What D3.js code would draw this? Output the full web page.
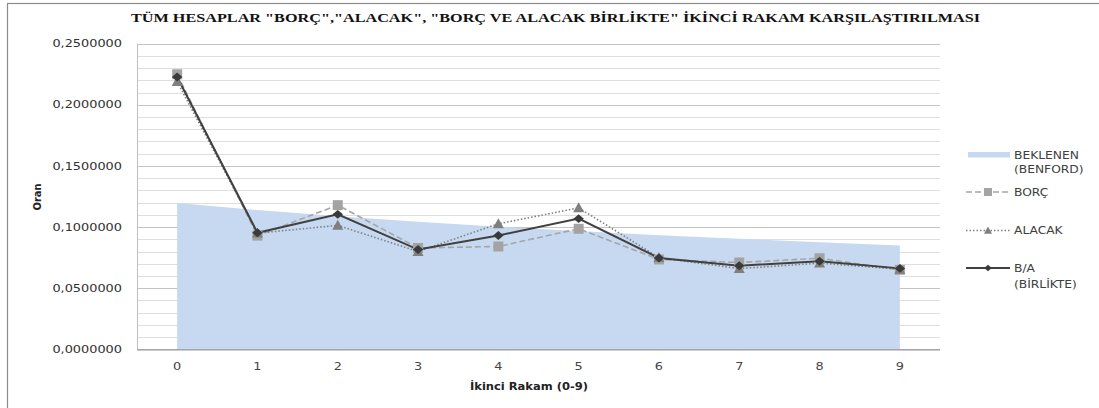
<!DOCTYPE html>
<html><head><meta charset="utf-8">
<script src="https://cdn.jsdelivr.net/npm/d3@7"></script>
<style>html,body{margin:0;padding:0;background:#fff;overflow:hidden}</style>
</head><body>
<svg id="c" width="1099" height="408"></svg>
<script>
const digits = ["0","1","2","3","4","5","6","7","8","9"];
const benford = [0.1197,0.1139,0.1088,0.1043,0.1003,0.0967,0.0934,0.0904,0.0876,0.0850];
const borc = [0.2250,0.0930,0.1179,0.0829,0.0841,0.0986,0.0735,0.0710,0.0745,0.0650];
const alacak = [0.2190,0.0950,0.1014,0.0800,0.1027,0.1157,0.0750,0.0660,0.0705,0.0655];
const birlikte = [0.2228,0.0953,0.1104,0.0816,0.0931,0.1069,0.0747,0.0684,0.0720,0.0662];
const yTicks = [0,0.05,0.1,0.15,0.2,0.25];
const title = 'TÜM HESAPLAR "BORÇ","ALACAK", "BORÇ VE ALACAK BİRLİKTE" İKİNCİ RAKAM KARŞILAŞTIRILMASI';
const legendLabels = [["BEKLENEN","(BENFORD)"],["BORÇ"],["ALACAK"],["B/A","(BİRLİKTE)"]];

const svg = d3.select("#c");
const L = 137, R = 940, T = 43.7, B = 349.3;
const x = d3.scalePoint().domain(digits).range([L, R]).padding(0.5);
const y = d3.scaleLinear().domain([0,0.25]).range([B, T]);
const SX = 1.17;
function stext(g, px, py, str, opts) {
  return g.append("text")
    .attr("transform", `translate(${px},${py}) scale(${SX},1)`)
    .attr("font-family", opts.family || "DejaVu Sans")
    .attr("font-size", opts.size || 11)
    .attr("font-weight", opts.weight || "normal")
    .attr("fill", opts.fill || "#404040")
    .attr("text-anchor", opts.anchor || "start")
    .attr("dominant-baseline", "central")
    .text(str);
}
function markerPath(type, s) {
  const h = s/2;
  if (type === "square") return `M${-h},${-h}H${h}V${h}H${-h}Z`;
  if (type === "triangle") return `M0,${-h}L${h},${h*0.8}L${-h},${h*0.8}Z`;
  return `M0,${-h*0.85}L${h},0L0,${h*0.85}L${-h},0Z`;
}

// outer border
svg.append("rect").attr("x",7.5).attr("y",3.5).attr("width",1100).attr("height",420)
  .attr("fill","none").attr("stroke","#8c8c8c").attr("stroke-width",1.2);

// title
svg.append("text").attr("x",131).attr("y",18).attr("dominant-baseline","central")
  .attr("font-family","Liberation Serif").attr("font-weight","bold").attr("font-size",12.5)
  .attr("textLength",849).attr("lengthAdjust","spacingAndGlyphs").attr("fill","#111")
  .text(title);

// gridlines
const minor = d3.range(0, 0.2501, 0.01);
svg.append("g").selectAll("line").data(minor).join("line")
  .attr("x1",L).attr("x2",R)
  .attr("y1",d=>Math.round(y(d))+0.5).attr("y2",d=>Math.round(y(d))+0.5)
  .attr("stroke",d=> (Math.round(d*100)%5===0) ? "#c4c4c4" : "#dedede").attr("stroke-width",1);

// area
const area = d3.area().x((d,i)=>x(digits[i])).y0(y(0)).y1(d=>y(d));
svg.append("path").datum(benford).attr("d",area).attr("fill","#c6d9f0");

// axes lines
svg.append("line").attr("x1",L+0.5).attr("x2",L+0.5).attr("y1",T).attr("y2",B).attr("stroke","#bfbfbf");
svg.append("line").attr("x1",L).attr("x2",R).attr("y1",B+0.5).attr("y2",B+0.5).attr("stroke","#9a9a9a").attr("stroke-width",1.3);

// y tick labels
const fmt = d3.format(".7f");
const yt = svg.append("g");
yTicks.forEach(v => stext(yt, 122, y(v), fmt(v).replace(".",","), {anchor:"end", size:11, fill:"#333"}));
// x tick labels
const xt = svg.append("g");
digits.forEach(d => stext(xt, x(d), 366, d, {anchor:"middle", size:11, fill:"#444"}));

// axis titles
svg.append("text").attr("x",529).attr("y",386).attr("text-anchor","middle").attr("dominant-baseline","central")
  .attr("font-family","DejaVu Sans").attr("font-weight","bold").attr("font-size",10.5).attr("fill","#222")
  .attr("textLength",118).attr("lengthAdjust","spacingAndGlyphs").text("İkinci Rakam (0-9)");
svg.append("text").attr("transform","translate(37,197) rotate(-90)").attr("text-anchor","middle").attr("dominant-baseline","central")
  .attr("font-family","DejaVu Sans").attr("font-weight","bold").attr("font-size",10.5).attr("fill","#222")
  .attr("textLength",27).attr("lengthAdjust","spacingAndGlyphs").text("Oran");

// series
const series = [
  {data:borc, stroke:"#a6a6a6", dash:"6,3", width:1.6, marker:"square", mfill:"#a3a3a3", msize:10, lsize:8},
  {data:alacak, stroke:"#808080", dash:"1.5,2", width:1.6, marker:"triangle", mfill:"#7f7f7f", msize:11, lsize:8},
  {data:birlikte, stroke:"#404040", dash:null, width:2, marker:"diamond", mfill:"#3a3a3a", msize:10.5, lsize:7.5}
];
const line = d3.line().x((d,i)=>x(digits[i])).y(d=>y(d));
series.forEach(s => {
  svg.append("path").datum(s.data).attr("d",line).attr("fill","none")
    .attr("stroke",s.stroke).attr("stroke-width",s.width).attr("stroke-dasharray",s.dash);
});
series.forEach(s => {
  svg.append("g").selectAll("path").data(s.data).join("path")
    .attr("transform",(d,i)=>`translate(${x(digits[i])},${y(d)})`)
    .attr("d", markerPath(s.marker, s.msize))
    .attr("fill",s.mfill);
});

// legend
const lg = svg.append("g");
lg.append("rect").attr("x",968).attr("y",152).attr("width",42).attr("height",5.5).attr("fill","#c6d9f0");
stext(lg, 1014, 155, legendLabels[0][0], {size:10.5, fill:"#404040"});
stext(lg, 1014, 169, legendLabels[0][1], {size:10.5, fill:"#404040"});
const legY = [192, 230.5, 268];
series.forEach((s,k) => {
  lg.append("line").attr("x1",966).attr("x2",1010).attr("y1",legY[k]).attr("y2",legY[k])
    .attr("stroke",s.stroke).attr("stroke-width",s.width).attr("stroke-dasharray",s.dash);
  lg.append("path").attr("transform",`translate(988,${legY[k]})`)
    .attr("d", markerPath(s.marker, s.lsize)).attr("fill",s.mfill);
  const lab = legendLabels[k+1];
  lab.forEach((t,j) => stext(lg, 1014, legY[k] + j*16, t, {size:10.5, fill:"#404040"}));
});
</script>
</body></html>
